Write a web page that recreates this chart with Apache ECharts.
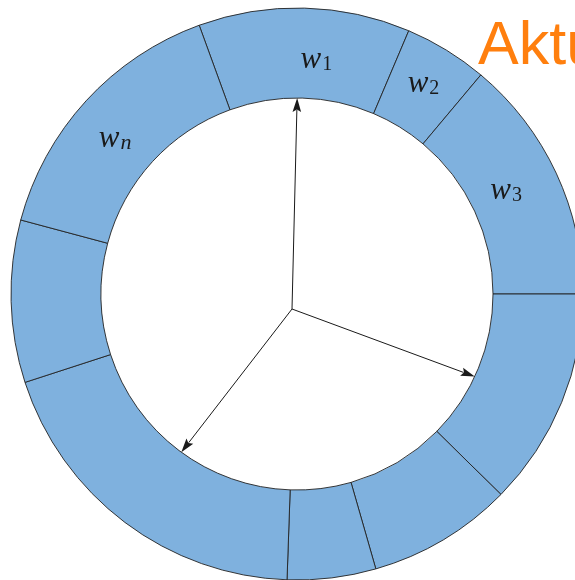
<!DOCTYPE html>
<html>
<head>
<meta charset="utf-8">
<script src="https://cdn.jsdelivr.net/npm/echarts@6/dist/echarts.min.js"></script>
<style>
html,body{margin:0;padding:0;background:#fff;}
#chart{width:575px;height:580px;}
</style>
</head>
<body>
<div id="chart"></div>
<script>
// ---- data ----
const segmentNames = ['w1', 'w2', 'w3', 'w4', 'w5', 'w6', 'w7', 'w8', 'wn'];
const segmentLabels = ['1', '2', '3', '', '', '', '', '', 'n'];   // subscript of w (empty = no label)
const segmentWeights = [43, 17, 50, 44.5, 29.5, 18, 70, 33, 55];
const arrowAngles = [88.6, -20.3, 232.3];   // pointer directions (degrees)
const titleText = 'Aktu';

// ---- layout ----
const CX = 297, CY = 294, R_IN = 196, R_OUT = 286;
const ORIGIN = [292, 309];
const labelOffsets = { w1: [13, 10], w2: [-1, -2], w3: [-12, 0], wn: [-2, 10] };

const chart = echarts.init(document.getElementById('chart'), null, { renderer: 'canvas' });

const SERIF = '"Liberation Serif", "DejaVu Serif", serif';
const pieData = segmentNames.map((n, i) => {
  const sub = segmentLabels[i];
  const subStyle = /[0-9]/.test(sub) ? 's' : 'si';
  return {
    name: n,
    value: segmentWeights[i],
    label: sub ? {
      show: true,
      position: 'inside',
      offset: labelOffsets[n] || [0, 0],
      formatter: '{w|w}{' + subStyle + '|' + sub + '}',
      rich: {
        w: { fontFamily: SERIF, fontStyle: 'italic', fontSize: 31, color: '#1a1a1a', verticalAlign: 'bottom', lineHeight: 30 },
        s: { fontFamily: SERIF, fontSize: 20, color: '#1a1a1a', verticalAlign: 'bottom', lineHeight: 22, padding: [0, 0, 0, 1] },
        si: { fontFamily: SERIF, fontStyle: 'italic', fontSize: 22, color: '#1a1a1a', verticalAlign: 'bottom', lineHeight: 22, padding: [0, 0, 0, 1] }
      }
    } : { show: false }
  };
});

// arrows from origin to inner circle
function arrowEnd(deg) {
  const a = deg * Math.PI / 180;
  const dx = Math.cos(a), dy = -Math.sin(a);
  const ox = ORIGIN[0] - CX, oy = ORIGIN[1] - CY;
  const b = ox * dx + oy * dy;
  const c = ox * ox + oy * oy - R_IN * R_IN;
  const t = -b + Math.sqrt(b * b - c);
  return [ORIGIN[0] + dx * t, ORIGIN[1] + dy * t, dx, dy];
}
const graphics = [];
arrowAngles.forEach(deg => {
  const [ex, ey, dx, dy] = arrowEnd(deg);
  const hl = 14, hw = 4.3;
  const bx = ex - dx * hl, by = ey - dy * hl;
  const px = -dy, py = dx;
  graphics.push({
    type: 'line', z: 10,
    shape: { x1: ORIGIN[0], y1: ORIGIN[1], x2: bx + dx * 2, y2: by + dy * 2 },
    style: { stroke: '#1a1a1a', lineWidth: 1 }
  });
  graphics.push({
    type: 'polygon', z: 10,
    shape: { points: [[ex, ey], [bx + px * hw, by + py * hw], [bx + dx * 2.5, by + dy * 2.5], [bx - px * hw, by - py * hw]] },
    style: { fill: '#1a1a1a' }
  });
});
graphics.push({
  type: 'text', z: 10, left: 478, top: 17,
  style: { text: titleText, fill: '#ff7f0e', fontFamily: 'Liberation Sans', fontSize: 61 }
});

chart.setOption({
  backgroundColor: '#ffffff',
  animation: false,
  series: [{
    type: 'pie',
    center: [CX, CY],
    radius: [R_IN, R_OUT],
    startAngle: 110,
    clockwise: true,
    avoidLabelOverlap: false,
    labelLine: { show: false },
    emphasis: { disabled: true },
    itemStyle: { color: '#7fb1de', borderColor: '#222222', borderWidth: 0.9 },
    data: pieData
  }],
  graphic: graphics
});
</script>
</body>
</html>
